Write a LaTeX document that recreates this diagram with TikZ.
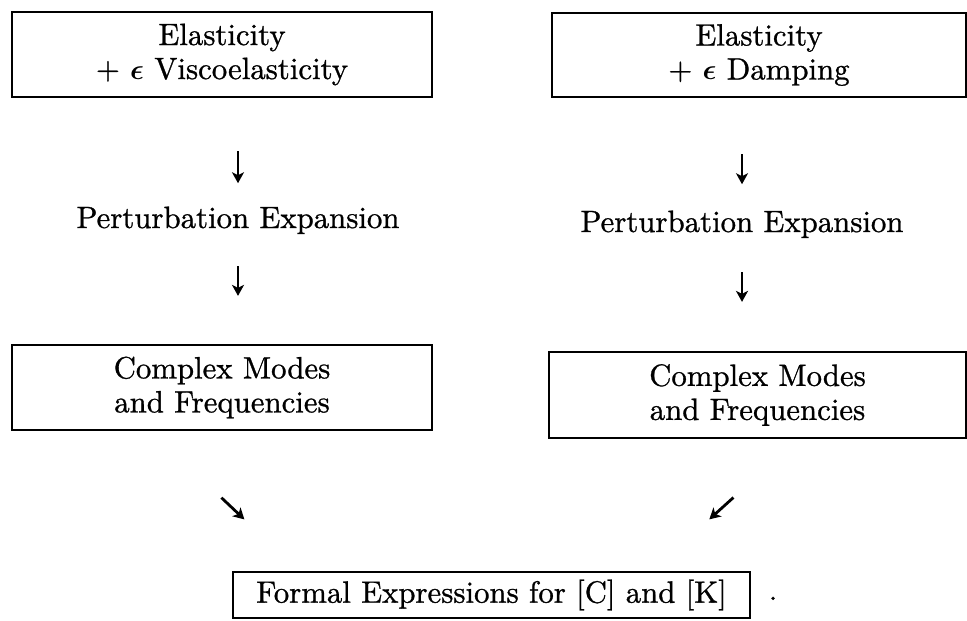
\documentclass[tikz,border=0pt]{standalone}
\usepackage{amsmath}
\usepackage{fontspec}
\setmainfont{lmroman10-regular.otf}[FakeBold=0.9]
\usetikzlibrary{arrows.meta}
\begin{document}
\begin{tikzpicture}[x=0.5pt,y=-0.5pt,
  box/.style={draw,line width=1.1pt,inner sep=0pt,align=center,font=\fontsize{15.4}{17}\selectfont},
  lbl/.style={inner sep=0pt,anchor=base,font=\fontsize{15.4}{17}\selectfont},
  arr/.style={line width=1.4pt,-{Stealth[length=5.5pt,width=6pt,inset=1.5pt]}}]
\useasboundingbox (0,0) rectangle (967,620);
\node (elastV) at (222,54.5) [box,minimum width=210pt,minimum height=42.5pt] {Elasticity\\ + $\boldsymbol{\epsilon}$ Viscoelasticity};
\node (elastD) at (759,55) [box,minimum width=207pt,minimum height=42pt] {Elasticity\\ + $\boldsymbol{\epsilon}$ Damping};
\node (pertV) at (238,228) [lbl] {Perturbation Expansion};
\node (pertD) at (742,232) [lbl] {Perturbation Expansion};
\node (modesV) at (222,387.5) [box,minimum width=210pt,minimum height=42.5pt] {Complex Modes\\ and Frequencies};
\node (modesD) at (757.5,395) [box,minimum width=208.5pt,minimum height=43pt] {Complex Modes\\ and Frequencies};
\node (formal) at (491.5,595) [box,minimum width=258.5pt,minimum height=23pt] {Formal Expressions for [C] and [K]};
\node (dot) at (773,600) [lbl] {.};
\draw[arr,shorten <=26.5pt,shorten >=11.5pt] (elastV.south -| pertV.north) -- (pertV.north);
\draw[arr,shorten <=16pt,shorten >=24pt] (pertV.south) -- (pertV.south |- modesV.north);
\draw[arr,shorten <=28pt,shorten >=13pt] (elastD.south -| pertD.north) -- (pertD.north);
\draw[arr,shorten <=17pt,shorten >=24.5pt] (pertD.south) -- (pertD.south |- modesD.north);
\draw[arr,shorten <=48.5pt,shorten >=37.5pt] ([xshift=70pt]modesV.south west) -- ([xshift=33.5pt]formal.north west);
\draw[arr,shorten <=43.5pt,shorten >=38.4pt] ([xshift=125pt]modesD.south west) -- ([xshift=210.25pt]formal.north west);
\end{tikzpicture}
\end{document}
